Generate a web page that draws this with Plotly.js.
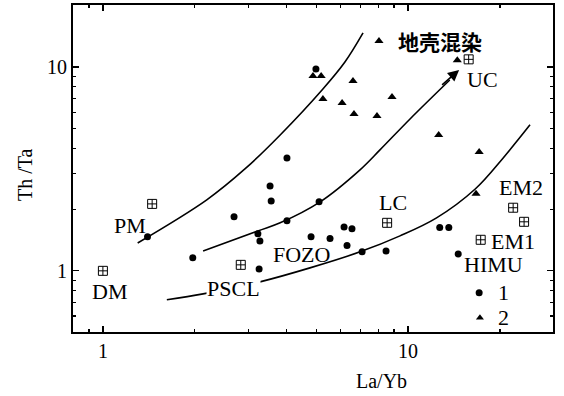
<!DOCTYPE html>
<html><head><meta charset="utf-8">
<script src="https://cdn.plot.ly/plotly-3.0.1.min.js"></script>
<style>html,body{margin:0;padding:0;background:#fff}</style>
</head><body><div id="chart" style="width:564px;height:396px"></div>
<script>
// Series 1 (circles)
const group1X = [1.40, 1.97, 4.99, 4.01, 3.53, 3.56, 5.11, 2.69, 4.01, 3.22, 3.27, 4.81, 5.55, 6.17, 6.55, 6.31, 7.07, 3.25, 8.47, 12.7, 13.6, 14.6];
const group1Y = [1.47, 1.16, 9.78, 3.58, 2.61, 2.20, 2.18, 1.84, 1.76, 1.52, 1.40, 1.47, 1.44, 1.64, 1.61, 1.33, 1.24, 1.02, 1.25, 1.63, 1.63, 1.21];
// Series 2 (triangles)
const group2X = [4.88, 5.19, 6.60, 5.26, 6.08, 6.65, 7.91, 8.86, 8.03, 12.6, 17.1, 16.7, 14.5];
const group2Y = [9.03, 9.03, 8.54, 6.97, 6.66, 5.88, 5.75, 7.13, 13.4, 4.64, 3.83, 2.39, 10.8];
// Reservoir end-members
const memberNames = ["DM", "PM", "PSCL", "LC", "UC", "EM2", "EM2b", "EM1"];
const memberX = [1.00, 1.45, 2.83, 8.54, 15.8, 22.1, 24.0, 17.3];
const memberY = [1.00, 2.13, 1.07, 1.72, 10.9, 2.04, 1.74, 1.42];
// Trend curves
const curveAX = [1.30, 2.19, 2.92, 3.81, 5.26, 6.21, 7.12];
const curveAY = [1.37, 2.23, 3.16, 4.64, 7.80, 10.58, 14.7];
const curveBX = [2.13, 3.22, 3.81, 5.15, 6.96, 8.09, 10.15, 13.7];
const curveBY = [1.25, 1.57, 1.72, 2.18, 3.13, 3.92, 5.56, 8.63];
const curveBTipX = 14.7, curveBTipY = 9.67;
const curveCX = [1.62, 2.13, 3.27, 4.77, 6.96, 9.41, 12.4, 16.6, 20.5, 25.1];
const curveCY = [0.721, 0.771, 0.883, 1.034, 1.239, 1.484, 1.819, 2.52, 3.58, 5.20];
// Text labels
const labelTexts = ["PM", "DM", "PSCL", "FOZO", "LC", "UC", "EM2", "EM1", "HIMU", "1", "2"];
const labelX = [1.226, 1.054, 2.67, 4.49, 8.93, 17.6, 23.5, 22.1, 19.1, 20.6, 20.6];
const labelY = [1.66, 0.789, 0.816, 1.198, 2.154, 8.73, 2.55, 1.387, 1.07, 0.78, 0.588];
const cnLabel = "地壳混染", cnX = 12.7, cnY = 13.4;
// Legend markers
const keyX = [17.1, 17.2];
const keyY = [0.78, 0.588];
const xTicks = [1, 10];
const yTicks = [1, 10];
const xTitle = "La/Yb", yTitle = "Th /Ta";

const L = Math.log10;
const serif = "Liberation Serif, Times New Roman, serif";
const black = "#000";

const traces = [
  {x: curveAX, y: curveAY, mode: "lines", line: {color: black, width: 1.6, shape: "spline", smoothing: 1}, hoverinfo: "skip"},
  {x: curveBX, y: curveBY, mode: "lines", line: {color: black, width: 1.6, shape: "spline", smoothing: 1}, hoverinfo: "skip"},
  {x: curveCX, y: curveCY, mode: "lines", line: {color: black, width: 1.6, shape: "spline", smoothing: 1}, hoverinfo: "skip"},
  {x: group1X, y: group1Y, mode: "markers", marker: {symbol: "circle", size: 7, color: black}},
  {x: group2X, y: group2Y, mode: "markers", marker: {symbol: "triangle-up", size: 8, color: black}},
  {x: memberX, y: memberY, mode: "markers", marker: {symbol: "square-cross-open", size: 9, color: black, line: {width: 1, color: black}}},
  {x: [keyX[0]], y: [keyY[0]], mode: "markers", marker: {symbol: "circle", size: 7, color: black}},
  {x: [keyX[1]], y: [keyY[1]], mode: "markers", marker: {symbol: "triangle-up", size: 7, color: black}}
];

const annotations = labelTexts.map((t, i) => ({
  x: L(labelX[i]), y: L(labelY[i]), xref: "x", yref: "y", text: t, showarrow: false,
  font: {family: serif, size: 22, color: black},
  bgcolor: t === "PSCL" ? "#fff" : "rgba(0,0,0,0)", borderpad: 0
}));
annotations.push({x: L(cnX), y: L(cnY), xref: "x", yref: "y", text: "<b>" + cnLabel + "</b>", showarrow: false,
  font: {family: "Noto Sans CJK SC", size: 21, color: black}});
annotations.push({x: L(curveBTipX), y: L(curveBTipY), ax: L(curveBX[curveBX.length - 1]) - 0.03, ay: L(curveBY[curveBY.length - 1]) - 0.03,
  xref: "x", yref: "y", axref: "x", ayref: "y", text: "", showarrow: true, arrowhead: 2, arrowsize: 1.4, arrowwidth: 1.6, arrowcolor: black});
annotations.push({x: 0.642, y: -0.15, xref: "paper", yref: "paper", xanchor: "center", yanchor: "middle",
  text: xTitle, showarrow: false, font: {family: serif, size: 20, color: black}});
annotations.push({x: -0.1, y: 0.48, xref: "paper", yref: "paper", xanchor: "center", yanchor: "middle", textangle: -90,
  text: yTitle, showarrow: false, font: {family: serif, size: 20, color: black}});

const axisBase = {
  type: "log", showline: true, linewidth: 2, linecolor: black, mirror: "ticks",
  ticks: "inside", ticklen: 6, tickwidth: 1.2, tickcolor: black, showgrid: false, zeroline: false,
  tickfont: {family: serif, size: 20, color: black}
};

const layout = {
  width: 564, height: 396, showlegend: false,
  paper_bgcolor: "#fff", plot_bgcolor: "#fff",
  margin: {l: 73, r: 11, t: 5, b: 64},
  xaxis: Object.assign({}, axisBase, {
    range: [-0.098, 1.475], tickmode: "array", tickvals: xTicks, ticktext: xTicks.map(String),
    minor: {tickmode: "array", tickvals: [0.9, 2, 3, 4, 5, 6, 7, 8, 9, 20, 30], ticks: "inside", ticklen: 3, tickcolor: black}
  }),
  yaxis: Object.assign({}, axisBase, {
    range: [-0.3, 1.304], tickmode: "array", tickvals: yTicks, ticktext: yTicks.map(String),
    minor: {tickmode: "array", tickvals: [0.6, 0.7, 0.8, 0.9, 2, 3, 4, 5, 6, 7, 8, 9, 20], ticks: "inside", ticklen: 3, tickcolor: black}
  }),
  annotations: annotations
};

Plotly.newPlot("chart", traces, layout, {staticPlot: true, displayModeBar: false});
</script>
</body></html>
